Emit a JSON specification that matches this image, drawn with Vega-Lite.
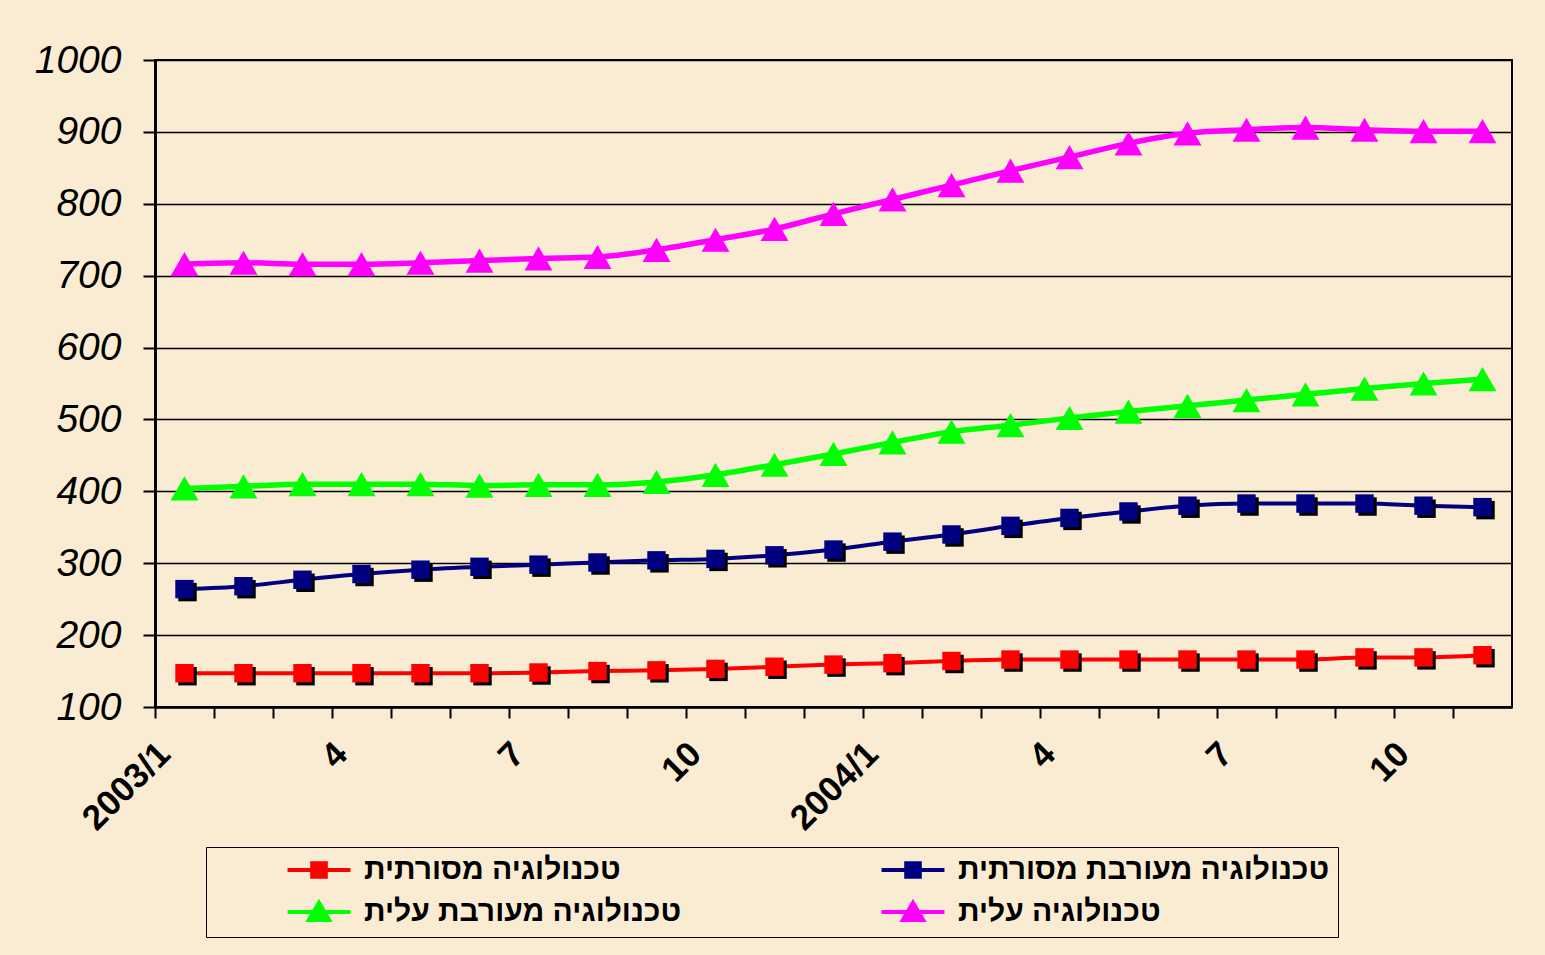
{
  "$schema": "https://vega.github.io/schema/vega-lite/v6.json",
  "autosize": "none",
  "width": 1357,
  "height": 647,
  "padding": {"left": 155, "top": 60, "right": 33, "bottom": 248},
  "background": "#faecd3",
  "config": {"view": {"stroke": "black", "strokeWidth": 2}},
  "data": {"values": [
    {"month":"2003/1","series":"טכנולוגיה מסורתית","value":147},
    {"month":"2003/2","series":"טכנולוגיה מסורתית","value":147},
    {"month":"2003/3","series":"טכנולוגיה מסורתית","value":147},
    {"month":"2003/4","series":"טכנולוגיה מסורתית","value":147},
    {"month":"2003/5","series":"טכנולוגיה מסורתית","value":147},
    {"month":"2003/6","series":"טכנולוגיה מסורתית","value":147},
    {"month":"2003/7","series":"טכנולוגיה מסורתית","value":148},
    {"month":"2003/8","series":"טכנולוגיה מסורתית","value":150},
    {"month":"2003/9","series":"טכנולוגיה מסורתית","value":151},
    {"month":"2003/10","series":"טכנולוגיה מסורתית","value":153},
    {"month":"2003/11","series":"טכנולוגיה מסורתית","value":156},
    {"month":"2003/12","series":"טכנולוגיה מסורתית","value":159},
    {"month":"2004/1","series":"טכנולוגיה מסורתית","value":161},
    {"month":"2004/2","series":"טכנולוגיה מסורתית","value":164},
    {"month":"2004/3","series":"טכנולוגיה מסורתית","value":166},
    {"month":"2004/4","series":"טכנולוגיה מסורתית","value":166},
    {"month":"2004/5","series":"טכנולוגיה מסורתית","value":166},
    {"month":"2004/6","series":"טכנולוגיה מסורתית","value":166},
    {"month":"2004/7","series":"טכנולוגיה מסורתית","value":166},
    {"month":"2004/8","series":"טכנולוגיה מסורתית","value":166},
    {"month":"2004/9","series":"טכנולוגיה מסורתית","value":169},
    {"month":"2004/10","series":"טכנולוגיה מסורתית","value":169},
    {"month":"2004/11","series":"טכנולוגיה מסורתית","value":172},
    {"month":"2003/1","series":"טכנולוגיה מעורבת מסורתית","value":264},
    {"month":"2003/2","series":"טכנולוגיה מעורבת מסורתית","value":268},
    {"month":"2003/3","series":"טכנולוגיה מעורבת מסורתית","value":277},
    {"month":"2003/4","series":"טכנולוגיה מעורבת מסורתית","value":285},
    {"month":"2003/5","series":"טכנולוגיה מעורבת מסורתית","value":291},
    {"month":"2003/6","series":"טכנולוגיה מעורבת מסורתית","value":295},
    {"month":"2003/7","series":"טכנולוגיה מעורבת מסורתית","value":298},
    {"month":"2003/8","series":"טכנולוגיה מעורבת מסורתית","value":301},
    {"month":"2003/9","series":"טכנולוגיה מעורבת מסורתית","value":304},
    {"month":"2003/10","series":"טכנולוגיה מעורבת מסורתית","value":306},
    {"month":"2003/11","series":"טכנולוגיה מעורבת מסורתית","value":311},
    {"month":"2003/12","series":"טכנולוגיה מעורבת מסורתית","value":319},
    {"month":"2004/1","series":"טכנולוגיה מעורבת מסורתית","value":330},
    {"month":"2004/2","series":"טכנולוגיה מעורבת מסורתית","value":340},
    {"month":"2004/3","series":"טכנולוגיה מעורבת מסורתית","value":352},
    {"month":"2004/4","series":"טכנולוגיה מעורבת מסורתית","value":363},
    {"month":"2004/5","series":"טכנולוגיה מעורבת מסורתית","value":372},
    {"month":"2004/6","series":"טכנולוגיה מעורבת מסורתית","value":380},
    {"month":"2004/7","series":"טכנולוגיה מעורבת מסורתית","value":383},
    {"month":"2004/8","series":"טכנולוגיה מעורבת מסורתית","value":383},
    {"month":"2004/9","series":"טכנולוגיה מעורבת מסורתית","value":383},
    {"month":"2004/10","series":"טכנולוגיה מעורבת מסורתית","value":380},
    {"month":"2004/11","series":"טכנולוגיה מעורבת מסורתית","value":378},
    {"month":"2003/1","series":"טכנולוגיה מעורבת עלית","value":404},
    {"month":"2003/2","series":"טכנולוגיה מעורבת עלית","value":407},
    {"month":"2003/3","series":"טכנולוגיה מעורבת עלית","value":410},
    {"month":"2003/4","series":"טכנולוגיה מעורבת עלית","value":410},
    {"month":"2003/5","series":"טכנולוגיה מעורבת עלית","value":410},
    {"month":"2003/6","series":"טכנולוגיה מעורבת עלית","value":408},
    {"month":"2003/7","series":"טכנולוגיה מעורבת עלית","value":409},
    {"month":"2003/8","series":"טכנולוגיה מעורבת עלית","value":409},
    {"month":"2003/9","series":"טכנולוגיה מעורבת עלית","value":413},
    {"month":"2003/10","series":"טכנולוגיה מעורבת עלית","value":423},
    {"month":"2003/11","series":"טכנולוגיה מעורבת עלית","value":437},
    {"month":"2003/12","series":"טכנולוגיה מעורבת עלית","value":452},
    {"month":"2004/1","series":"טכנולוגיה מעורבת עלית","value":468},
    {"month":"2004/2","series":"טכנולוגיה מעורבת עלית","value":483},
    {"month":"2004/3","series":"טכנולוגיה מעורבת עלית","value":492},
    {"month":"2004/4","series":"טכנולוגיה מעורבת עלית","value":502},
    {"month":"2004/5","series":"טכנולוגיה מעורבת עלית","value":511},
    {"month":"2004/6","series":"טכנולוגיה מעורבת עלית","value":519},
    {"month":"2004/7","series":"טכנולוגיה מעורבת עלית","value":527},
    {"month":"2004/8","series":"טכנולוגיה מעורבת עלית","value":535},
    {"month":"2004/9","series":"טכנולוגיה מעורבת עלית","value":543},
    {"month":"2004/10","series":"טכנולוגיה מעורבת עלית","value":550},
    {"month":"2004/11","series":"טכנולוגיה מעורבת עלית","value":556},
    {"month":"2003/1","series":"טכנולוגיה עלית","value":716},
    {"month":"2003/2","series":"טכנולוגיה עלית","value":718},
    {"month":"2003/3","series":"טכנולוגיה עלית","value":716},
    {"month":"2003/4","series":"טכנולוגיה עלית","value":716},
    {"month":"2003/5","series":"טכנולוגיה עלית","value":718},
    {"month":"2003/6","series":"טכנולוגיה עלית","value":721},
    {"month":"2003/7","series":"טכנולוגיה עלית","value":724},
    {"month":"2003/8","series":"טכנולוגיה עלית","value":726},
    {"month":"2003/9","series":"טכנולוגיה עלית","value":736},
    {"month":"2003/10","series":"טכנולוגיה עלית","value":750},
    {"month":"2003/11","series":"טכנולוגיה עלית","value":765},
    {"month":"2003/12","series":"טכנולוגיה עלית","value":786},
    {"month":"2004/1","series":"טכנולוגיה עלית","value":806},
    {"month":"2004/2","series":"טכנולוגיה עלית","value":826},
    {"month":"2004/3","series":"טכנולוגיה עלית","value":846},
    {"month":"2004/4","series":"טכנולוגיה עלית","value":865},
    {"month":"2004/5","series":"טכנולוגיה עלית","value":884},
    {"month":"2004/6","series":"טכנולוגיה עלית","value":898},
    {"month":"2004/7","series":"טכנולוגיה עלית","value":903},
    {"month":"2004/8","series":"טכנולוגיה עלית","value":906},
    {"month":"2004/9","series":"טכנולוגיה עלית","value":903},
    {"month":"2004/10","series":"טכנולוגיה עלית","value":901},
    {"month":"2004/11","series":"טכנולוגיה עלית","value":901}
  ]},
  "encoding": {
    "x": {
      "field": "month", "type": "ordinal", "sort": null,
      "scale": {"type": "band", "paddingInner": 0, "paddingOuter": 0},
      "axis": {
        "title": null, "bandPosition": 0, "grid": false,
        "labelExpr": "split(datum.value,'/')[1]=='1' ? datum.value : (indexof(['4','7','10'], split(datum.value,'/')[1]) >= 0 ? split(datum.value,'/')[1] : '')",
        "labelAngle": -45, "labelAlign": "right", "labelBaseline": "middle",
        "labelOffset": -20, "labelPadding": 30, "labelOverlap": false, "labelBound": false,
        "labelFont": "Liberation Sans", "labelFontWeight": "bold", "labelFontSize": 35, "labelColor": "black",
        "tickSize": 11, "tickWidth": 2, "tickColor": "black",
        "domainColor": "black", "domainWidth": 2.5
      }
    },
    "y": {
      "field": "value", "type": "quantitative",
      "scale": {"domain": [100, 1000], "nice": false, "zero": false},
      "axis": {
        "title": null, "values": [100,200,300,400,500,600,700,800,900,1000], "format": "d",
        "grid": true, "gridColor": "black", "gridWidth": 1.5,
        "tickSize": 12, "tickWidth": 2, "tickColor": "black",
        "domainColor": "black", "domainWidth": 3,
        "labelFont": "Liberation Sans", "labelFontStyle": "italic", "labelFontSize": 39, "labelColor": "black",
        "labelPadding": 22
      }
    },
    "color": {
      "field": "series", "type": "nominal",
      "scale": {
        "domain": ["טכנולוגיה מסורתית", "טכנולוגיה מעורבת מסורתית", "טכנולוגיה מעורבת עלית", "טכנולוגיה עלית"],
        "range": ["#ff0000", "#000080", "#00ff00", "#ff00ff"]
      },
      "legend": {
        "orient": "none", "legendX": 51, "legendY": 787,
        "columns": 2, "direction": "horizontal", "title": null,
        "strokeColor": "black", "padding": 8,
        "labelFont": "Liberation Sans", "labelFontSize": 30, "labelFontWeight": "bold", "labelColor": "black", "labelLimit": 0,
        "symbolSize": 289, "symbolStrokeWidth": 4, "symbolOffset": 90, "labelOffset": 30,
        "columnPadding": 126, "rowPadding": 9,
        "encode": {
          "symbols": {
            "update": {
              "shape": {"signal": "indexof(['טכנולוגיה מסורתית','טכנולוגיה מעורבת מסורתית'], datum.value) >= 0 ? 'M-3.7,0H3.7M-0.8,-0.8H0.8V0.8H-0.8Z' : 'M-3.7,0H3.7M0,-1.1L1.2,0.95L-1.2,0.95Z'"},
              "fill": {"signal": "scale('color', datum.value)"},
              "stroke": {"signal": "scale('color', datum.value)"},
              "opacity": {"value": 1}
            }
          }
        }
      }
    }
  },
  "layer": [
    {
      "transform": [{"filter": "indexof(['טכנולוגיה מסורתית','טכנולוגיה מעורבת מסורתית'], datum.series) >= 0"}],
      "mark": {"type": "line", "strokeWidth": 4, "interpolate": "monotone"}
    },
    {
      "transform": [{"filter": "indexof(['טכנולוגיה מעורבת עלית','טכנולוגיה עלית'], datum.series) >= 0"}],
      "mark": {"type": "line", "strokeWidth": 5.5, "interpolate": "monotone"}
    },
    {
      "transform": [{"filter": "indexof(['טכנולוגיה מסורתית','טכנולוגיה מעורבת מסורתית'], datum.series) >= 0"}],
      "mark": {"type": "point", "shape": "square", "filled": true, "size": 340, "opacity": 1, "xOffset": 3, "yOffset": 3},
      "encoding": {"color": {"value": "black"}}
    },
    {
      "transform": [{"filter": "indexof(['טכנולוגיה מסורתית','טכנולוגיה מעורבת מסורתית'], datum.series) >= 0"}],
      "mark": {"type": "point", "shape": "square", "filled": true, "size": 340, "opacity": 1}
    },
    {
      "transform": [{"filter": "indexof(['טכנולוגיה מעורבת עלית','טכנולוגיה עלית'], datum.series) >= 0"}],
      "mark": {"type": "point", "shape": "triangle-up", "filled": true, "size": 780, "opacity": 1}
    }
  ]
}
